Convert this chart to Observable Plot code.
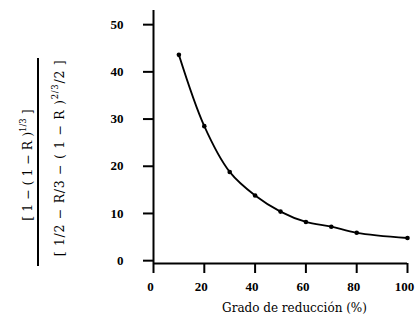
<!DOCTYPE html>
<html><head><meta charset="utf-8">
<script src="https://cdn.jsdelivr.net/npm/d3@7"></script>
<script src="https://cdn.jsdelivr.net/npm/@observablehq/plot@0.6"></script>
<style>body{margin:0;background:#fff} svg{display:block}</style>
</head><body><div id="chart"></div>
<script>
const grado = [10, 20, 30, 40, 50, 60, 70, 80, 100];
const valor = [43.6, 28.5, 18.8, 13.8, 10.4, 8.2, 7.2, 5.9, 4.8];
const xTicks = [0, 20, 40, 60, 80, 100];
const yTicks = [0, 10, 20, 30, 40, 50];
const xLabel = "Grado de reducción (%)";
const numParts = [["[ 1 − ( 1 − R )", 0], ["1/3", 1], [" ]", 0]];
const denParts = [["[ 1/2 − R/3 − ( 1 − R )", 0], ["2/3", 1], ["/2 ]", 0]];
const yDomain = [-0.6, 53];

const data = grado.map((g, i) => ({grado: g, valor: valor[i]}));

const plot = Plot.plot({
  width: 415, height: 325,
  marginLeft: 153, marginRight: 8, marginTop: 10, marginBottom: 62,
  style: {fontFamily: "'Liberation Serif', serif", fontSize: "13px", background: "#fff", color: "#000"},
  x: {domain: [0, 100]},
  y: {domain: yDomain},
  marks: [
    Plot.axisX({ticks: xTicks, tickSize: 10, tickFormat: () => "", strokeWidth: 2, label: null}),
    Plot.text(xTicks, {x: d => d, text: d => String(d), frameAnchor: "bottom", dy: 27, dx: -3, fontWeight: "bold", fontSize: 13}),
    Plot.axisY({ticks: yTicks, tickSize: 10, tickPadding: 20, strokeWidth: 2, fontWeight: "bold", fontSize: 13, label: null}),
    Plot.ruleX([0], {strokeWidth: 2}),
    Plot.ruleY([yDomain[0]], {strokeWidth: 2}),
    Plot.line(data, {x: "grado", y: "valor", curve: "catmull-rom", strokeWidth: 1.8}),
    Plot.dot(data, {x: "grado", y: "valor", r: 2.3, fill: "black"}),
    Plot.text([xLabel], {text: d => d, frameAnchor: "bottom", dx: 14, dy: 48, fontSize: 12, fontFamily: "'DejaVu Serif', serif"})
  ]
});

const svg = d3.select(plot);
const g = svg.append("g")
  .attr("transform", "translate(38,162) rotate(-90)")
  .attr("font-family", "'DejaVu Serif', serif")
  .attr("font-size", 12.5)
  .attr("fill", "#000");
g.append("line").attr("x1", -104).attr("x2", 104).attr("y1", 0).attr("y2", 0)
  .attr("stroke", "#000").attr("stroke-width", 2);
function addFrac(parts, x, y, spacing) {
  const t = g.append("text").attr("x", x).attr("y", y).attr("text-anchor", "middle")
    .attr("letter-spacing", spacing);
  parts.forEach(([s, sup]) => {
    const ts = t.append("tspan").text(s);
    if (sup) ts.attr("font-size", 8.5).attr("dy", -6);
    else if (t.selectAll("tspan").size() > 1) ts.attr("dy", 6);
  });
}
addFrac(numParts, -3, -6, 0);
addFrac(denParts, 4, 26, 0.7);

document.getElementById("chart").appendChild(plot);
</script>
</body></html>
